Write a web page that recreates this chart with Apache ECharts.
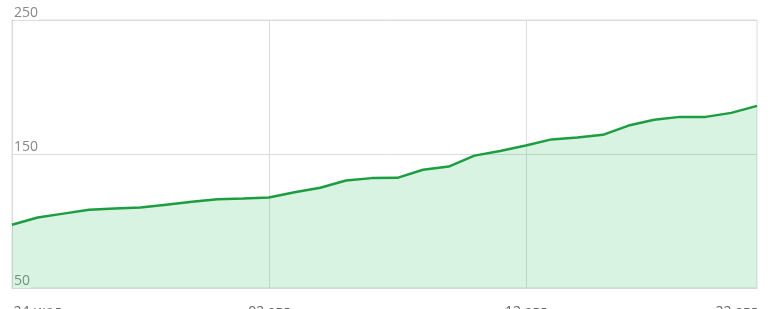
<!DOCTYPE html>
<html>
<head>
<meta charset="utf-8">
<script src="https://cdn.jsdelivr.net/npm/echarts@6/dist/echarts.min.js"></script>
<style>html,body{margin:0;padding:0;background:#fff}#c{width:770px;height:309px}</style>
</head>
<body>
<div id="c"></div>
<script>
const dates = ['23 июл','24 июл','25 июл','26 июл','27 июл','28 июл','29 июл','30 июл','31 июл','01 авг',
  '02 авг','03 авг','04 авг','05 авг','06 авг','07 авг','08 авг','09 авг','10 авг','11 авг',
  '12 авг','13 авг','14 авг','15 авг','16 авг','17 авг','18 авг','19 авг','20 авг','21 авг'];
const values = [97.2,102.6,105.5,108.4,109.3,110.1,112.2,114.3,116.3,116.7,
  117.5,121.4,124.8,130.2,132.0,132.2,138.2,140.6,148.8,152.3,
  156.4,160.9,162.4,164.3,171.2,175.5,177.7,177.7,180.7,185.9];
const labelIdx = [1,10,20];
const gridIdx = [10,20];
const extraLabel = '22 авг';
const yTicks = {min:50, max:250, interval:100};

const chart = echarts.init(document.getElementById('c'));
chart.setOption({
  animation:false,
  grid:{left:12,right:13,top:20,bottom:21,show:true,borderColor:'#dcdcdc',borderWidth:1,containLabel:false,outerBoundsMode:'none'},
  xAxis:{type:'category',data:dates,boundaryGap:false,
    axisLine:{show:true,lineStyle:{color:'#d6d6d6'}},axisTick:{show:false},
    axisLabel:{interval:(i)=>labelIdx.includes(i),margin:17,color:'#666',fontSize:14,fontFamily:'Open Sans',verticalAlign:'top'},
    splitLine:{show:true,interval:(i)=>gridIdx.includes(i),lineStyle:{color:'#dcdcdc'}}},
  yAxis:{type:'value',min:yTicks.min,max:yTicks.max,interval:yTicks.interval,
    axisLine:{show:true,lineStyle:{color:'#dcdcdc'}},axisTick:{show:false},
    splitLine:{lineStyle:{color:'#dcdcdc'}},
    axisLabel:{inside:true,margin:1,color:'#888',fontSize:14,fontFamily:'Open Sans',verticalAlign:'bottom',align:'left',
      backgroundColor:'#fff',padding:[0,1,0,1]}},
  graphic:[{type:'text',right:13,top:305,style:{text:extraLabel,fill:'#666',fontSize:14,fontFamily:'Open Sans'}}],
  series:[{type:'line',data:values,symbol:'none',smooth:false,
    lineStyle:{color:'#1c9e40',width:2.5},
    areaStyle:{color:'rgba(50,190,95,0.27)'}}]
});
</script>
</body>
</html>
